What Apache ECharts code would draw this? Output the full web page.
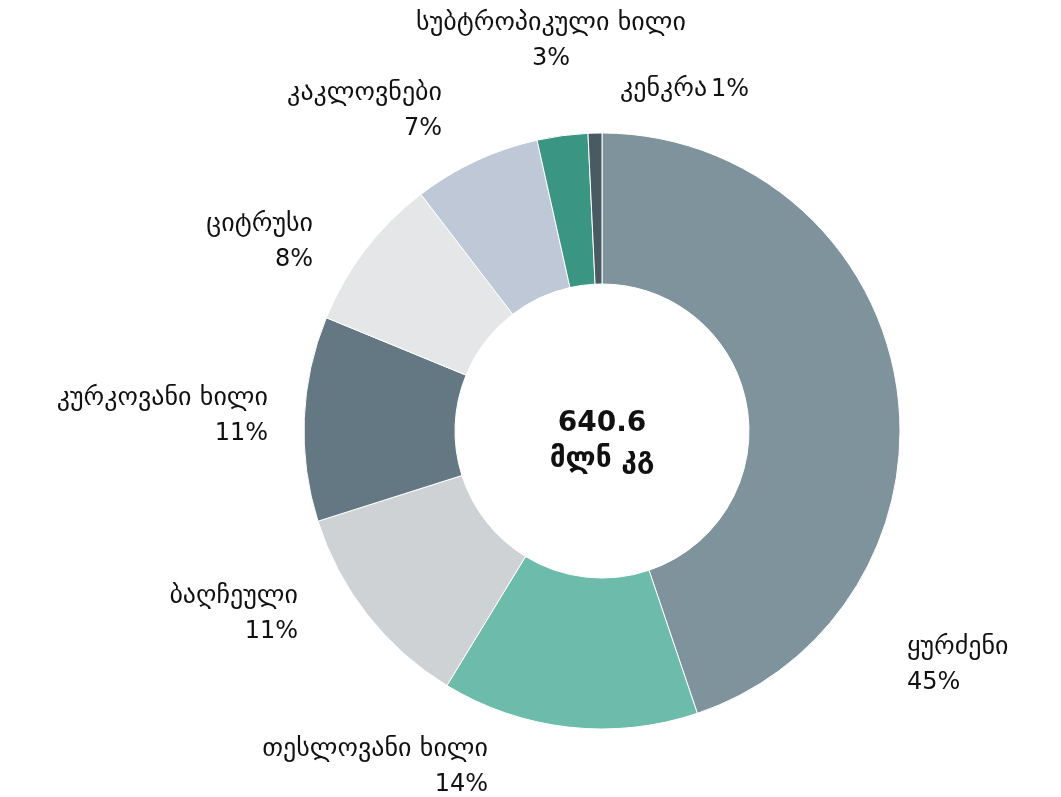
<!DOCTYPE html>
<html>
<head>
<meta charset="utf-8">
<script src="https://cdn.jsdelivr.net/npm/echarts@6/dist/echarts.min.js"></script>
<style>
  html, body { margin: 0; padding: 0; background: #fff; }
  #chart { width: 1061px; height: 797px; }
</style>
</head>
<body>
<div id="chart"></div>
<script>
(function() {
  // კატეგორიები და მოცულობა (მლნ კგ)
  var names = ['ყურძენი', 'თესლოვანი ხილი', 'ბაღჩეული', 'კურკოვანი ხილი', 'ციტრუსი', 'კაკლოვნები', 'სუბტროპიკული ხილი', 'კენკრა'];
  var values = [287.1, 89, 73, 71.1, 53.8, 44.2, 17.6, 4.8];
  var colors = ['#7f939d', '#6dbcab', '#cfd2d5', '#647883', '#e5e6e8', '#bec8d6', '#3a9683', '#4a5a63'];
  var unit = 'მლნ კგ';

  // label anchors: [x, y(bottom of box), align]
  var labelPos = [
    [907, 700, 'left'],
    [488, 802, 'right'],
    [298, 649, 'right'],
    [268, 451, 'right'],
    [313, 277, 'right'],
    [442, 146, 'right'],
    [551, 76, 'center'],
    [620, 107, 'left']
  ];

  var total = 0;
  for (var i = 0; i < values.length; i++) total += values[i];

  var data = names.map(function(n, i) {
    var item = { name: n, value: values[i], itemStyle: { color: colors[i] } };
    if (i === names.length - 1) {
      item.label = { formatter: '{n|{b}} {p|{d}%}' };
    }
    return item;
  });

  var myChart = echarts.init(document.getElementById('chart'));
  var option = {
    animation: false,
    textStyle: { fontFamily: '"DejaVu Sans", sans-serif' },
    graphic: [{
      type: 'text',
      x: 602,
      y: 442,
      style: {
        text: total.toFixed(1) + '\n' + unit,
        align: 'center',
        verticalAlign: 'middle',
        fill: '#111',
        font: 'bold 28px "DejaVu Sans", sans-serif',
        lineHeight: 36
      }
    }],
    series: [{
      type: 'pie',
      center: [602, 431],
      radius: [147, 298],
      startAngle: 90,
      percentPrecision: 0,
      avoidLabelOverlap: false,
      itemStyle: { borderColor: '#fff', borderWidth: 1 },
      label: {
        show: true,
        position: 'outside',
        formatter: '{n|{b}}\n{p|{d}%}',
        color: '#111',
        fontFamily: '"DejaVu Sans", sans-serif',
        rich: {
          n: { fontSize: 26, lineHeight: 35, color: '#111' },
          p: { fontSize: 24, lineHeight: 35, color: '#111' }
        }
      },
      labelLine: { show: false },
      labelLayout: function(params) {
        var p = labelPos[params.dataIndex];
        return { x: p[0], y: p[1], align: p[2], verticalAlign: 'bottom' };
      },
      emphasis: { disabled: true },
      data: data
    }]
  };
  myChart.setOption(option);
  window.addEventListener('resize', function() {
    myChart.resize();
  });
})();
</script>
</body>
</html>
